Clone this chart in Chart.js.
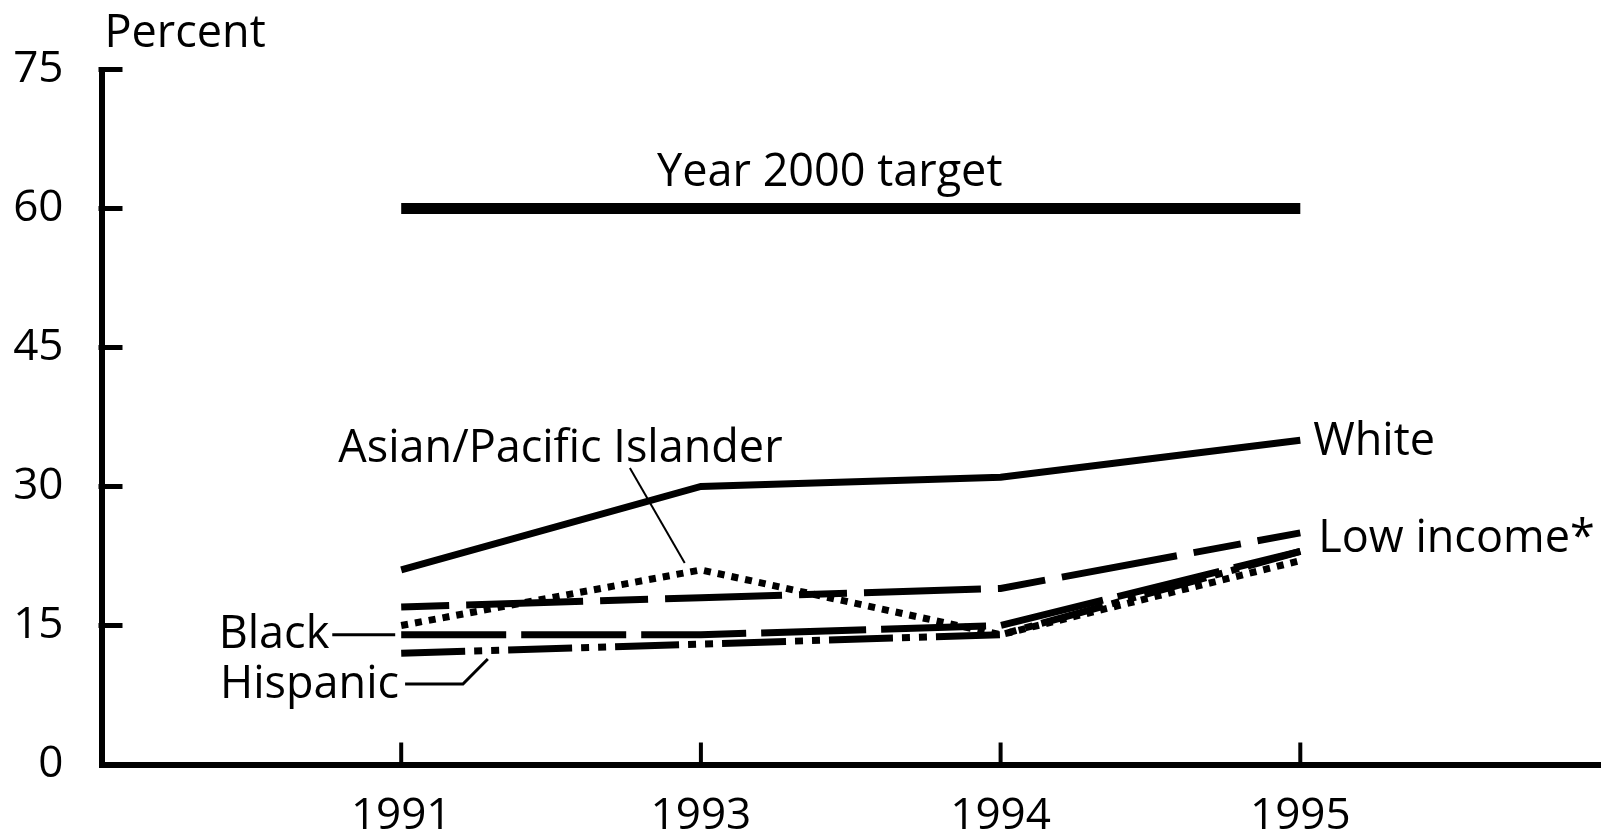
<!DOCTYPE html>
<html lang="en">
<head>
<meta charset="UTF-8">
<title>Percent - Year 2000 target</title>
<script src="https://cdn.jsdelivr.net/npm/chart.js"></script>
<style>
  body { margin: 0; background: #fff; }
  .chart-container { position: relative; width: 1606px; height: 835px; }
</style>
</head>
<body>
<div class="chart-container">
  <canvas id="chart"></canvas>
</div>
<script>
// Data
const years = ["1991", "1993", "1994", "1995"];
const yTicks = [0, 15, 30, 45, 60, 75];
const target = [60, 60, 60, 60];
const white = [21, 30, 31, 35];
const lowIncome = [17, 18, 19, 25];
const asian = [15, 21, 14, 22];
const black = [14, 14, 15, 23];
const hispanic = [12, 13, 14, 23];

// Text labels, placed in data units (x = year index, y = percent)
const labels = [
  { text: "Percent", x: -0.99, y: 77.4, align: "left" },
  { text: "Year 2000 target", x: 1.43, y: 62.4, align: "center" },
  { text: "White", x: 3.043, y: 33.4, align: "left" },
  { text: "Low income*", x: 3.06, y: 22.9, align: "left" },
  { text: "Asian/Pacific Islander", x: -0.21, y: 32.64, align: "left" },
  { text: "Black", x: -0.24, y: 12.57, align: "right" },
  { text: "Hispanic", x: -0.007, y: 7.18, align: "right" },
];

// Leader lines from labels to their series
const leaders = [
  { pts: [[-0.23, 14], [-0.02, 14]], width: 3 },
  { pts: [[0.013, 8.69], [0.206, 8.69], [0.289, 11.38]], width: 3 },
  { pts: [[0.763, 32.0], [0.946, 21.74]], width: 2 },
];

const FONT = "'Open Sans', 'Liberation Sans', sans-serif";

function toPoints(values) {
  return values.map((v, i) => ({ x: i, y: v }));
}

function series(data, width, dash) {
  return {
    data: toPoints(data),
    borderColor: "#000",
    borderWidth: width,
    borderDash: dash,
    borderCapStyle: "butt",
    pointRadius: 0,
    tension: 0,
    fill: false,
  };
}

// Inside tick marks, labels and leader lines
const overlay = {
  id: "overlay",
  afterDraw(chart) {
    const ctx = chart.ctx;
    const xs = chart.scales.x;
    const ys = chart.scales.y;
    const left = chart.chartArea.left;
    const bottom = chart.chartArea.bottom;

    ctx.save();
    ctx.strokeStyle = "#000";
    ctx.lineCap = "butt";

    // y ticks pointing right
    ctx.lineWidth = 5;
    yTicks.slice(1).forEach((v) => {
      const py = ys.getPixelForValue(v);
      ctx.beginPath();
      ctx.moveTo(left - 3, py);
      ctx.lineTo(left + 21, py);
      ctx.stroke();
    });

    // x ticks pointing up
    ctx.lineWidth = 4;
    years.forEach((_, i) => {
      const px = xs.getPixelForValue(i);
      ctx.beginPath();
      ctx.moveTo(px, bottom);
      ctx.lineTo(px, bottom - 22);
      ctx.stroke();
    });

    // leaders
    leaders.forEach((l) => {
      ctx.lineWidth = l.width;
      ctx.beginPath();
      l.pts.forEach(([x, y], k) => {
        const px = xs.getPixelForValue(x);
        const py = ys.getPixelForValue(y);
        if (k === 0) ctx.moveTo(px, py);
        else ctx.lineTo(px, py);
      });
      ctx.stroke();
    });

    // text
    ctx.fillStyle = "#000";
    ctx.font = "45px " + FONT;
    ctx.textBaseline = "alphabetic";
    labels.forEach((l) => {
      ctx.textAlign = l.align;
      ctx.fillText(l.text, xs.getPixelForValue(l.x), ys.getPixelForValue(l.y));
    });
    ctx.restore();
  },
};

new Chart(document.getElementById("chart"), {
  type: "line",
  data: {
    datasets: [
      series(target, 11, []),
      series(white, 7, []),
      series(lowIncome, 7, [48, 17, 117, 17]),
      series(asian, 7, [7, 7]),
      series(black, 7, [105, 15]),
      series(hispanic, 7, [64, 9, 8, 9, 8, 9]),
    ],
  },
  options: {
    responsive: true,
    maintainAspectRatio: false,
    animation: false,
    layout: { padding: { top: 69.5, right: 6, left: 0, bottom: 0 } },
    plugins: {
      legend: { display: false },
      tooltip: { enabled: false },
    },
    scales: {
      x: {
        type: "linear",
        min: -1,
        max: 4,
        afterBuildTicks: (scale) => {
          scale.ticks = years.map((_, i) => ({ value: i }));
        },
        afterFit: (scale) => {
          scale.height = 70.5;
        },
        grid: { display: false },
        border: { display: true, color: "#000", width: 6 },
        ticks: {
          color: "#000",
          font: { family: FONT, size: 44 },
          padding: 18,
          maxRotation: 0,
          callback: (v) => years[v],
        },
      },
      y: {
        min: 0,
        max: 75,
        afterBuildTicks: (scale) => {
          scale.ticks = yTicks.map((v) => ({ value: v }));
        },
        afterFit: (scale) => {
          scale.width = 101.5;
        },
        grid: { display: false },
        border: { display: true, color: "#000", width: 6 },
        ticks: {
          color: "#000",
          font: { family: FONT, size: 44 },
          padding: 30,
        },
      },
    },
  },
  plugins: [overlay],
});
</script>
</body>
</html>
